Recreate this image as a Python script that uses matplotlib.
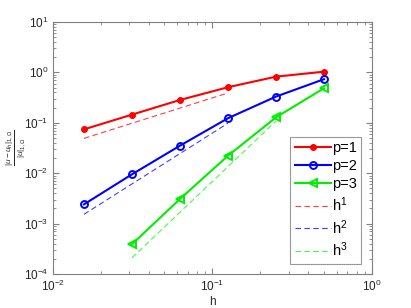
import matplotlib
matplotlib.use("Agg")
import matplotlib.pyplot as plt
from matplotlib.ticker import LogLocator, NullFormatter

plt.rcParams['font.family'] = ['Liberation Sans', 'DejaVu Sans']
plt.rcParams['mathtext.fontset'] = 'custom'
plt.rcParams['mathtext.rm'] = 'Liberation Sans'
plt.rcParams['mathtext.it'] = 'Liberation Sans:italic'

h = [1/64, 1/32, 1/16, 1/8, 1/4, 1/2]
err_p1 = [0.074, 0.145, 0.283, 0.506, 0.82, 1.03]
err_p2 = [0.00241, 0.0095, 0.0351, 0.123, 0.33, 0.73]
h_p3 = [1/32, 1/16, 1/8, 1/4, 1/2]
err_p3 = [3.9e-4, 3.08e-3, 0.0222, 0.128, 0.483]

ref1_h = [1/64, 1/8]
ref1_v = [0.049, 0.39]
ref2_h = [1/64, 1/8]
ref2_v = [0.00153, 0.098]
ref3_h = [1/32, 1/4]
ref3_v = [2.1e-4, 0.108]

fig = plt.figure(figsize=(4.11, 3.08), dpi=100)
ax = fig.add_axes([0.129, 0.110, 0.776, 0.819])

ax.loglog(h, err_p1, '-', color='#ff0000', lw=1.5, marker='.', ms=8, label='p=1')
ax.loglog(h, err_p2, '-', color='#0000ff', lw=1.5, marker='o', ms=5,
          mfc='none', mew=1.4, label='p=2')
ax.loglog(h_p3, err_p3, '-', color='#00ee00', lw=1.5, marker='<', ms=5.5,
          mfc='none', mew=1.4, label='p=3')
ax.loglog(ref1_h, ref1_v, '--', color='#ff4040', lw=0.8, dashes=(5, 3), label='h$^{1}$')
ax.loglog(ref2_h, ref2_v, '--', color='#4040ff', lw=0.8, dashes=(5, 3), label='h$^{2}$')
ax.loglog(ref3_h, ref3_v, '--', color='#40ff40', lw=0.8, dashes=(5, 3), label='h$^{3}$')

ax.set_xlim(1e-2, 1e0)
ax.set_ylim(1e-4, 1e1)

for s in ax.spines.values():
    s.set_color('#808080')
    s.set_linewidth(0.8)
ax.tick_params(which='both', direction='in', top=True, right=True,
               colors='#808080', labelcolor='#262626', labelsize=8.5)
ax.tick_params(which='major', length=4)
ax.tick_params(which='minor', length=2)
ax.xaxis.set_minor_locator(LogLocator(base=10, subs=range(2, 10)))
ax.yaxis.set_minor_locator(LogLocator(base=10, subs=range(2, 10)))
ax.xaxis.set_minor_formatter(NullFormatter())
ax.yaxis.set_minor_formatter(NullFormatter())

ax.set_xlabel('h', fontsize=8.5, color='#262626', labelpad=1)
ax.set_ylabel(r'$\frac{|u-u_h|_{1,\Omega}}{|u|_{1,\Omega}}$', fontsize=8.5,
              color='#262626')
ax.yaxis.set_label_coords(-0.08, 0.5)

leg = ax.legend(loc='lower right', bbox_to_anchor=(0.975, 0.03), fontsize=10.5,
                frameon=True, fancybox=False, handlelength=2.5,
                handletextpad=0.05, borderpad=0.3, labelspacing=0.28,
                borderaxespad=0.2)
leg.get_frame().set_edgecolor('#808080')
leg.get_frame().set_linewidth(0.8)

fig.savefig('out.png', dpi=100)
